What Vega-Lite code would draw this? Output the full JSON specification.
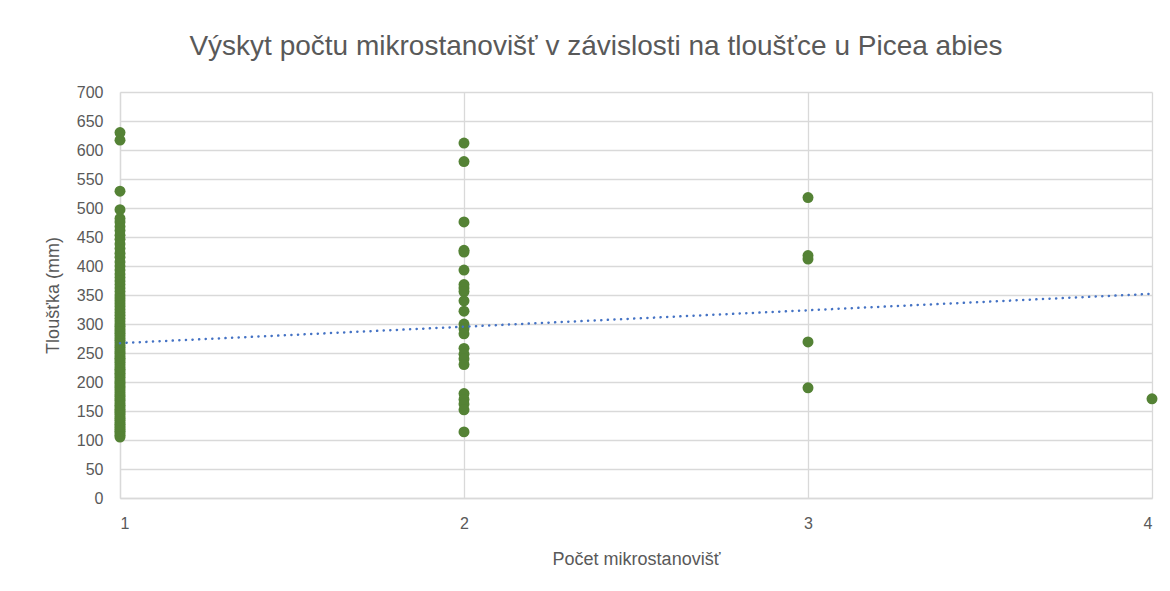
{
  "$schema": "https://vega.github.io/schema/vega-lite/v6.json",
  "width": 1032,
  "height": 406,
  "autosize": {"type": "none"},
  "padding": {"left": 120, "top": 92, "right": 18, "bottom": 93},
  "background": "white",
  "title": {
    "text": "Výskyt počtu mikrostanovišť v závislosti na tloušťce u Picea abies",
    "font": "Liberation Sans",
    "fontSize": 28,
    "fontWeight": "normal",
    "color": "#595959",
    "anchor": "middle",
    "dx": -40,
    "offset": 23
  },
  "config": {
    "view": {"stroke": null},
    "axis": {
      "labelFont": "Liberation Sans",
      "labelFontSize": 16,
      "labelColor": "#595959",
      "labelOverlap": false,
      "titleFont": "Liberation Sans",
      "titleFontSize": 18,
      "titleFontWeight": "normal",
      "titleColor": "#595959",
      "gridColor": "#D9D9D9",
      "gridWidth": 1.3,
      "domainColor": "#D9D9D9",
      "domainWidth": 1.3,
      "ticks": false
    }
  },
  "datasets": {
    "points": [
      {"pocet": 1, "tloustka": 105}, {"pocet": 1, "tloustka": 108}, {"pocet": 1, "tloustka": 112}, {"pocet": 1, "tloustka": 115},
      {"pocet": 1, "tloustka": 118}, {"pocet": 1, "tloustka": 121}, {"pocet": 1, "tloustka": 124}, {"pocet": 1, "tloustka": 127},
      {"pocet": 1, "tloustka": 130}, {"pocet": 1, "tloustka": 134}, {"pocet": 1, "tloustka": 137}, {"pocet": 1, "tloustka": 140},
      {"pocet": 1, "tloustka": 144}, {"pocet": 1, "tloustka": 147}, {"pocet": 1, "tloustka": 150}, {"pocet": 1, "tloustka": 153},
      {"pocet": 1, "tloustka": 157}, {"pocet": 1, "tloustka": 160}, {"pocet": 1, "tloustka": 164}, {"pocet": 1, "tloustka": 168},
      {"pocet": 1, "tloustka": 171}, {"pocet": 1, "tloustka": 175}, {"pocet": 1, "tloustka": 178}, {"pocet": 1, "tloustka": 182},
      {"pocet": 1, "tloustka": 186}, {"pocet": 1, "tloustka": 190}, {"pocet": 1, "tloustka": 193}, {"pocet": 1, "tloustka": 197},
      {"pocet": 1, "tloustka": 200}, {"pocet": 1, "tloustka": 204}, {"pocet": 1, "tloustka": 208}, {"pocet": 1, "tloustka": 212},
      {"pocet": 1, "tloustka": 215}, {"pocet": 1, "tloustka": 219}, {"pocet": 1, "tloustka": 222}, {"pocet": 1, "tloustka": 226},
      {"pocet": 1, "tloustka": 230}, {"pocet": 1, "tloustka": 234}, {"pocet": 1, "tloustka": 238}, {"pocet": 1, "tloustka": 241},
      {"pocet": 1, "tloustka": 245}, {"pocet": 1, "tloustka": 249}, {"pocet": 1, "tloustka": 252}, {"pocet": 1, "tloustka": 256},
      {"pocet": 1, "tloustka": 260}, {"pocet": 1, "tloustka": 264}, {"pocet": 1, "tloustka": 268}, {"pocet": 1, "tloustka": 272},
      {"pocet": 1, "tloustka": 276}, {"pocet": 1, "tloustka": 280}, {"pocet": 1, "tloustka": 284}, {"pocet": 1, "tloustka": 288},
      {"pocet": 1, "tloustka": 292}, {"pocet": 1, "tloustka": 296}, {"pocet": 1, "tloustka": 300}, {"pocet": 1, "tloustka": 305},
      {"pocet": 1, "tloustka": 310}, {"pocet": 1, "tloustka": 315}, {"pocet": 1, "tloustka": 320}, {"pocet": 1, "tloustka": 325},
      {"pocet": 1, "tloustka": 330}, {"pocet": 1, "tloustka": 335}, {"pocet": 1, "tloustka": 340}, {"pocet": 1, "tloustka": 345},
      {"pocet": 1, "tloustka": 350}, {"pocet": 1, "tloustka": 356}, {"pocet": 1, "tloustka": 362}, {"pocet": 1, "tloustka": 368},
      {"pocet": 1, "tloustka": 374}, {"pocet": 1, "tloustka": 380}, {"pocet": 1, "tloustka": 386}, {"pocet": 1, "tloustka": 393},
      {"pocet": 1, "tloustka": 400}, {"pocet": 1, "tloustka": 407}, {"pocet": 1, "tloustka": 415}, {"pocet": 1, "tloustka": 422},
      {"pocet": 1, "tloustka": 430}, {"pocet": 1, "tloustka": 438}, {"pocet": 1, "tloustka": 446}, {"pocet": 1, "tloustka": 453},
      {"pocet": 1, "tloustka": 461}, {"pocet": 1, "tloustka": 468}, {"pocet": 1, "tloustka": 476}, {"pocet": 1, "tloustka": 482},
      {"pocet": 1, "tloustka": 497}, {"pocet": 1, "tloustka": 529}, {"pocet": 1, "tloustka": 617}, {"pocet": 1, "tloustka": 630},
      {"pocet": 2, "tloustka": 612}, {"pocet": 2, "tloustka": 580}, {"pocet": 2, "tloustka": 476}, {"pocet": 2, "tloustka": 427},
      {"pocet": 2, "tloustka": 424}, {"pocet": 2, "tloustka": 393}, {"pocet": 2, "tloustka": 368}, {"pocet": 2, "tloustka": 362},
      {"pocet": 2, "tloustka": 356}, {"pocet": 2, "tloustka": 340}, {"pocet": 2, "tloustka": 322}, {"pocet": 2, "tloustka": 300},
      {"pocet": 2, "tloustka": 292}, {"pocet": 2, "tloustka": 283}, {"pocet": 2, "tloustka": 258}, {"pocet": 2, "tloustka": 248},
      {"pocet": 2, "tloustka": 240}, {"pocet": 2, "tloustka": 230}, {"pocet": 2, "tloustka": 180}, {"pocet": 2, "tloustka": 170},
      {"pocet": 2, "tloustka": 162}, {"pocet": 2, "tloustka": 152}, {"pocet": 2, "tloustka": 114},
      {"pocet": 3, "tloustka": 518}, {"pocet": 3, "tloustka": 418}, {"pocet": 3, "tloustka": 412}, {"pocet": 3, "tloustka": 269},
      {"pocet": 3, "tloustka": 190},
      {"pocet": 4, "tloustka": 171}
    ],
    "trend": [
      {"pocet": 1, "tloustka": 267},
      {"pocet": 4, "tloustka": 352}
    ]
  },
  "layer": [
    {
      "data": {"name": "points"},
      "mark": {"type": "circle", "size": 120, "color": "#548235", "opacity": 1},
      "encoding": {
        "x": {
          "field": "pocet", "type": "quantitative",
          "scale": {"domain": [1, 4], "nice": false, "zero": false},
          "axis": {"values": [1, 2, 3, 4], "tickCount": 10, "format": "d", "labelPadding": 17, "title": "Počet mikrostanovišť", "titlePadding": 19}
        },
        "y": {
          "field": "tloustka", "type": "quantitative",
          "scale": {"domain": [0, 700], "nice": false},
          "axis": {"values": [0, 50, 100, 150, 200, 250, 300, 350, 400, 450, 500, 550, 600, 650, 700], "tickCount": 20, "labelPadding": 17, "title": "Tloušťka (mm)", "titlePadding": 14}
        }
      }
    },
    {
      "data": {"name": "trend"},
      "mark": {"type": "line", "color": "#4472C4", "strokeWidth": 2.5, "strokeDash": [0.1, 6.5], "strokeCap": "round"},
      "encoding": {
        "x": {"field": "pocet", "type": "quantitative"},
        "y": {"field": "tloustka", "type": "quantitative"}
      }
    }
  ]
}
